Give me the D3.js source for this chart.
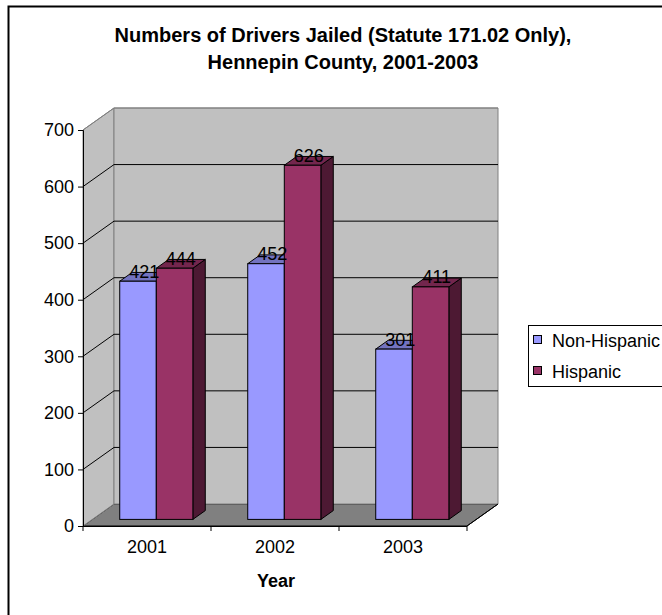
<!DOCTYPE html>
<html>
<head>
<meta charset="utf-8">
<script src="https://cdn.jsdelivr.net/npm/d3@7"></script>
<style>
  html, body { margin: 0; padding: 0; background: #fff; }
  svg { display: block; }
  text { font-family: Arial, "Liberation Sans", sans-serif; }
</style>
</head>
<body>
<svg id="chart" width="662" height="615"></svg>
<script>
// Data
const years = ["2001", "2002", "2003"];
const seriesNames = ["Non-Hispanic", "Hispanic"];
const nonHispanic = [421, 452, 301];
const hispanic = [444, 626, 411];
const yTicks = [0, 100, 200, 300, 400, 500, 600, 700];

const titleLines = ["Numbers of Drivers Jailed (Statute 171.02 Only),", "Hennepin County, 2001-2003"];
const xTitle = "Year";

// Colours per series: front, top, side
const palette = [
  { front: "#9999ff", top: "#7373c0", side: "#4d4d80" },
  { front: "#993366", top: "#73264d", side: "#4d1933" }
];

const FONT = "Arial, 'Liberation Sans', sans-serif";
const svg = d3.select("#chart");

// Plot geometry (front plane) and 3D depth offset
const x0 = 83, x1 = 467, yBase = 526, yTop = 130;
const DX = 31, DY = -22;

const x = d3.scaleBand().domain(years).range([x0, x1]).paddingInner(0).paddingOuter(0);
const y = d3.scaleLinear().domain([0, 700]).range([yBase, yTop]);

// Outer chart border
svg.append("rect").attr("x", 8.5).attr("y", 6.5).attr("width", 700).attr("height", 700)
  .attr("fill", "#fff").attr("stroke", "#000").attr("stroke-width", 2);

const pt = (px, py) => px + "," + py;

// Floor
svg.append("polygon")
  .attr("points", [pt(x0, yBase), pt(x0 + DX, yBase + DY), pt(x1 + DX, yBase + DY), pt(x1, yBase)].join(" "))
  .attr("fill", "#808080").attr("stroke", "#000").attr("stroke-width", 1);

// Left side wall
svg.append("polygon")
  .attr("points", [pt(x0, yBase), pt(x0, yTop), pt(x0 + DX, yTop + DY), pt(x0 + DX, yBase + DY)].join(" "))
  .attr("fill", "#c0c0c0").attr("stroke", "#808080").attr("stroke-width", 1);

// Back wall
svg.append("polygon")
  .attr("points", [pt(x0 + DX, yTop + DY), pt(x1 + DX, yTop + DY), pt(x1 + DX, yBase + DY), pt(x0 + DX, yBase + DY)].join(" "))
  .attr("fill", "#c0c0c0").attr("stroke", "#808080").attr("stroke-width", 1);

// Gridlines on side and back walls
const grid = svg.append("g");
yTicks.filter(t => t > 0).forEach(t => {
  const col = t === 700 ? "#808080" : "#000";
  grid.append("line")
    .attr("x1", x0).attr("y1", y(t)).attr("x2", x0 + DX).attr("y2", y(t) + DY)
    .attr("stroke", col).attr("stroke-width", 1);
  grid.append("line")
    .attr("x1", x0 + DX).attr("y1", y(t) + DY).attr("x2", x1 + DX).attr("y2", y(t) + DY)
    .attr("stroke", col).attr("stroke-width", 1);
});

// Front floor edge on the right
svg.append("line")
  .attr("x1", x1).attr("y1", yBase).attr("x2", x1 + DX).attr("y2", yBase + DY)
  .attr("stroke", "#000");

// Bars: gap width 150%, gap depth 150%
const barW = x.bandwidth() / 3.5;
const pFront = 0.3, pDepth = 0.4;
const fdx = DX * pFront, fdy = DY * pFront;
const bdx = DX * pDepth, bdy = DY * pDepth;
const seriesValues = [nonHispanic, hispanic];

const bars = svg.append("g");
const labels = [];
years.forEach((yr, i) => {
  seriesValues.forEach((vals, s) => {
    const v = vals[i];
    const left = x(yr) + barW * 0.75 + s * barW + fdx;
    const right = left + barW;
    const bot = yBase + fdy;
    const top = y(v) + fdy;
    const c = palette[s];
    // right side face
    bars.append("polygon")
      .attr("points", [pt(right, bot), pt(right, top), pt(right + bdx, top + bdy), pt(right + bdx, bot + bdy)].join(" "))
      .attr("fill", c.side).attr("stroke", "#000").attr("stroke-width", 1).attr("stroke-linejoin", "round");
    // top face
    bars.append("polygon")
      .attr("points", [pt(left, top), pt(right, top), pt(right + bdx, top + bdy), pt(left + bdx, top + bdy)].join(" "))
      .attr("fill", c.top).attr("stroke", "#000").attr("stroke-width", 1).attr("stroke-linejoin", "round");
    // front face
    bars.append("rect")
      .attr("x", left).attr("y", top).attr("width", barW).attr("height", bot - top)
      .attr("fill", c.front).attr("stroke", "#000").attr("stroke-width", 1);
    labels.push({ v, cx: (left + right) / 2 + bdx / 2, cy: top + bdy / 2 });
  });
});

// Value labels
svg.append("g").selectAll("text").data(labels).join("text")
  .attr("x", d => d.cx).attr("y", d => d.cy + 1)
  .attr("text-anchor", "middle").attr("font-size", 18).attr("fill", "#000")
  .text(d => d.v);

// Y axis
const yAxis = d3.axisLeft(y).tickValues(yTicks).tickSize(5).tickPadding(4).tickFormat(d3.format("d"));
const gy = svg.append("g").attr("transform", `translate(${x0},0)`).call(yAxis);
gy.select(".domain").attr("stroke", "#000");
gy.selectAll(".tick line").attr("stroke", "#000");
gy.selectAll(".tick text").attr("font-size", 18).attr("fill", "#000").attr("font-family", FONT);

// X axis
const xAxis = d3.axisBottom(x).tickSize(0).tickPadding(14);
const gx = svg.append("g").attr("transform", `translate(0,${yBase})`).call(xAxis);
gx.select(".domain").attr("stroke", "#000").attr("d", `M${x0},0.5H${x1}`);
gx.selectAll(".tick text").attr("font-size", 18).attr("fill", "#000").attr("font-family", FONT);
// category separators
gx.append("g").selectAll("line").data([x0, ...years.map(yr => x(yr) + x.bandwidth())]).join("line")
  .attr("x1", d => d).attr("x2", d => d).attr("y1", 0).attr("y2", 5).attr("stroke", "#000");

// Axis title
svg.append("text").attr("x", (x0 + x1) / 2 + 1).attr("y", 587).attr("text-anchor", "middle")
  .attr("font-size", 18).attr("font-weight", "bold").text(xTitle);

// Chart title
svg.append("g").selectAll("text").data(titleLines).join("text")
  .attr("x", 343).attr("y", (d, i) => 42 + i * 27).attr("text-anchor", "middle")
  .attr("font-size", 20).attr("font-weight", "bold").text(d => d);

// Legend
const lg = svg.append("g").attr("transform", "translate(528,325)");
lg.append("rect").attr("x", 0.5).attr("y", 0.5).attr("width", 200).attr("height", 61)
  .attr("fill", "#fff").attr("stroke", "#000");
seriesNames.forEach((name, s) => {
  const cy = 15 + s * 31;
  lg.append("rect").attr("x", 5.5).attr("y", cy - 4.5).attr("width", 8).attr("height", 8)
    .attr("fill", palette[s].front).attr("stroke", "#000");
  lg.append("text").attr("x", 24).attr("y", cy + 6.5).attr("font-size", 18).text(name);
});
</script>
</body>
</html>
